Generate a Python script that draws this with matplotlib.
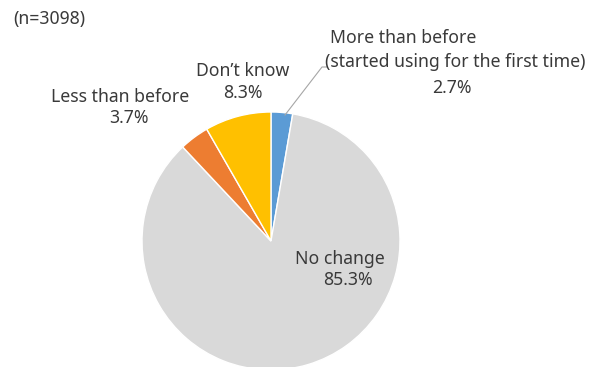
import matplotlib
matplotlib.use("Agg")
from matplotlib import pyplot as plt

categories = ["More than before\n(started using for the first time)", "No change", "Less than before", "Don't know"]
shares = [2.7, 85.3, 3.7, 8.3]
colors = ["#5B9BD5", "#D9D9D9", "#ED7D31", "#FFC000"]
sample_note = "(n=3098)"

W, H = 601, 367
TEXT = "#3A3A3A"
FONT = ["Noto Sans", "DejaVu Sans"]

fig = plt.figure(figsize=(W / 100, H / 100), dpi=100)
ax = fig.add_axes([0, 0, 1, 1])

# y axis is flipped, so counterclock=True runs clockwise on screen
ax.pie(shares, colors=colors, startangle=-90, counterclock=True,
       center=(271, 241), radius=129, frame=True,
       wedgeprops=dict(edgecolor="white", linewidth=1.0))
ax.set_xlim(0, W)
ax.set_ylim(H, 0)
ax.axis("off")


def _label(x, y, text, ha="center"):
    ax.text(x, y, text, ha=ha, va="center", fontsize=12.7, color=TEXT, family=FONT)


_label(13, 19, sample_note, ha="left")
more_l1, more_l2 = categories[0].split("\n")
_label(330, 38, more_l1, ha="left")
_label(325, 62, more_l2, ha="left")
_label(452, 88, f"{shares[0]}%")
_label(243, 71, categories[3].replace("'", "\u2019"))
_label(243, 93, f"{shares[3]}%")
_label(120, 97, categories[2])
_label(129, 118, f"{shares[2]}%")
_label(340, 259, categories[1])
_label(348, 280, f"{shares[1]}%")

# leader line for the small blue slice
ax.plot([285, 322, 327], [115, 67, 67], color="#A6A6A6", linewidth=0.8)

fig.savefig("out.png", dpi=100)
